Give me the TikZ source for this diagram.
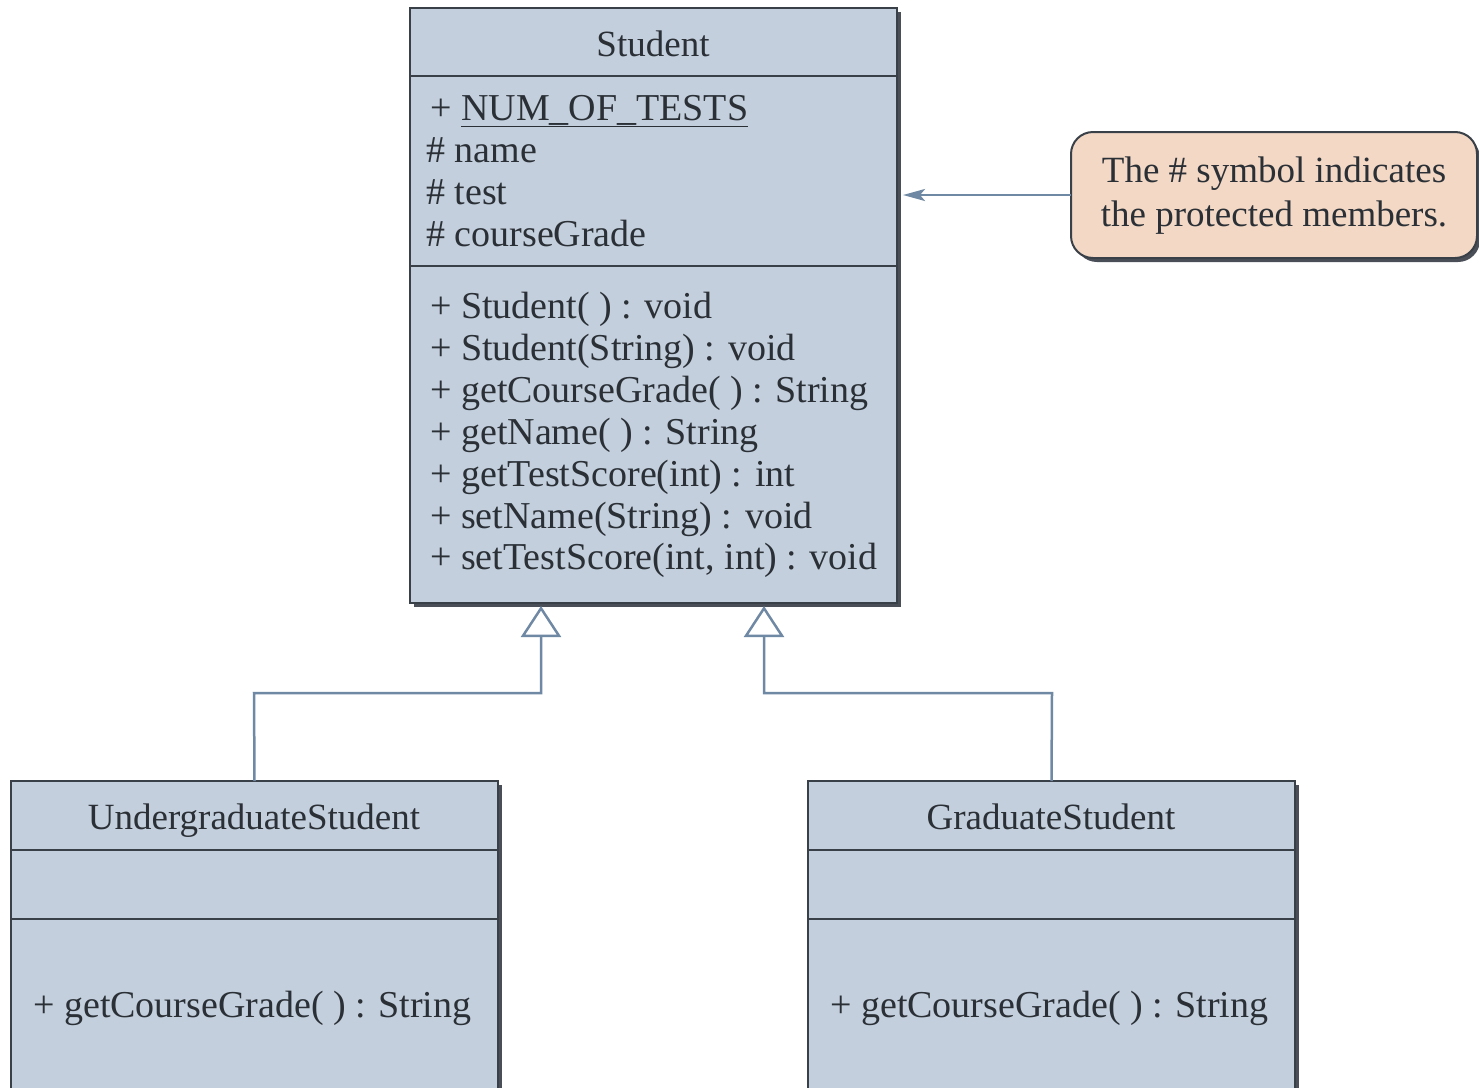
\documentclass[tikz,border=0pt]{standalone}
\usepackage{fontspec}
\setmainfont{Liberation Serif}
\usetikzlibrary{arrows.meta}
\definecolor{boxfill}{HTML}{C3CFDD}
\definecolor{boxline}{HTML}{3A4048}
\definecolor{shadowc}{HTML}{4A4F57}
\definecolor{connc}{HTML}{6F88A3}
\definecolor{notefill}{HTML}{F2D8C5}
\definecolor{txt}{HTML}{2B3036}
\tikzset{
  umlbox/.style={draw=boxline, line width=2pt, fill=boxfill, inner sep=0pt, outer sep=0pt, anchor=north west},
  boxshadow/.style={fill=shadowc},
  sepline/.style={draw=boxline, line width=2pt},
  member/.style={anchor=base west, inner sep=0pt, text=txt, font=\fontsize{38}{42}\selectfont},
  title/.style={member, anchor=base},
  conn/.style={draw=connc, line width=2.5pt},
  notebox/.style={draw=boxline, line width=2pt, fill=notefill, rounded corners=22pt, inner sep=0pt, outer sep=0pt, anchor=north west}
}
\begin{document}
\begin{tikzpicture}[x=1pt,y=-1pt]
\useasboundingbox (0,0) rectangle (1479,1087);
\clip (0,0) rectangle (1479,1087);
% shadows
\fill[boxshadow] (414,12) rectangle (901,607);
\fill[boxshadow] (15,785) rectangle (502,1100);
\fill[boxshadow] (812,785) rectangle (1299,1100);
\fill[boxshadow, rounded corners=22pt] (1075,136) rectangle (1480,262);
% Student
\node[umlbox, minimum width=487pt, minimum height=595pt] (student) at (410,8) {};
\draw[sepline] (410,76) -- (897,76);
\draw[sepline] (410,266) -- (897,266);
\node[title, font=\fontsize{37}{42}\selectfont] (sname) at (653,56) {Student};
\node[member] (a1) at (430,120) {+ \underline{NUM\_OF\_TESTS}};
\node[member] (a2) at (426,162) {\# name};
\node[member] (a3) at (426,204) {\# test};
\node[member] (a4) at (426,246) {\# courseGrade};
\node[member] (m1) at (430,318) {+ Student( ) : void};
\node[member] (m2) at (430,360) {+ Student(String) : void};
\node[member] (m3) at (430,402) {+ getCourseGrade( ) : String};
\node[member] (m4) at (430,444) {+ getName( ) : String};
\node[member] (m5) at (430,486) {+ getTestScore(int) : int};
\node[member] (m6) at (430,528) {+ setName(String) : void};
\node[member] (m7) at (430,569) {+ setTestScore(int, int) : void};
% Note
\node[notebox, minimum width=406pt, minimum height=126pt] (note) at (1071,132) {};
\node[title, font=\fontsize{37}{44}\selectfont] (notet1) at (1274,182) {The \# symbol indicates};
\node[title, font=\fontsize{37}{44}\selectfont] (notet2) at (1274,226) {the protected members.};
\coordinate (ntip) at (903,0);
\draw[conn, -{Stealth[length=22pt,width=12pt,inset=5pt]}] (note.west) -- (ntip |- note.west);
% Undergraduate
\node[umlbox, minimum width=487pt, minimum height=330pt] (ug) at (11,781) {};
\draw[sepline] (11,850) -- (498,850);
\draw[sepline] (11,919) -- (498,919);
\node[title, font=\fontsize{37}{42}\selectfont] (ugname) at (254,829) {UndergraduateStudent};
\node[member] (ugm) at (33,1017) {+ getCourseGrade( ) : String};
% Graduate
\node[umlbox, minimum width=487pt, minimum height=330pt] (gs) at (808,781) {};
\draw[sepline] (808,850) -- (1295,850);
\draw[sepline] (808,919) -- (1295,919);
\node[title, font=\fontsize{37}{42}\selectfont] (gsname) at (1051,829) {GraduateStudent};
\node[member] (gsm) at (830,1017) {+ getCourseGrade( ) : String};
% inheritance
\coordinate (t1) at (541,606);
\coordinate (t2) at (764,606);
\draw[conn, -{Triangle[open, length=31pt, width=40pt, line width=2.5pt]}] (ug.north) -- (254,693) -- (541,693) -- (t1);
\draw[conn, -{Triangle[open, length=31pt, width=40pt, line width=2.5pt]}] (gs.north) -- (1052,693) -- (764,693) -- (t2);
\end{tikzpicture}
\end{document}
